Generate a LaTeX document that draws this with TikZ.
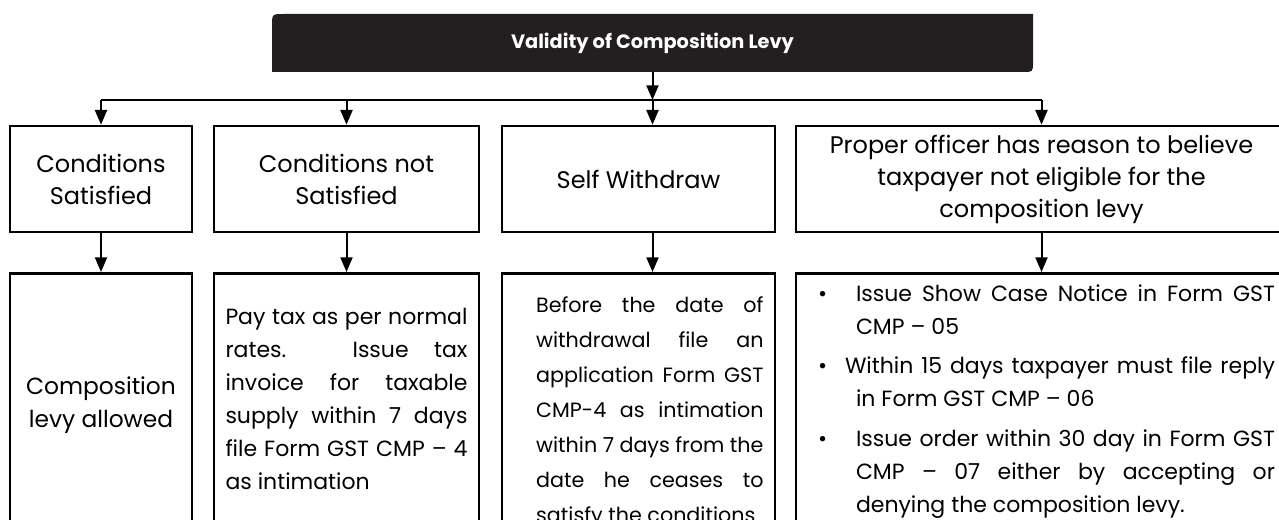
\documentclass[tikz,border=0pt]{standalone}
\usepackage{fontspec}
\setmainfont{Poppins}
\usepackage{tikz}
\usetikzlibrary{arrows.meta}

\definecolor{headfill}{HTML}{231F20}
\newcommand{\bitem}[1]{\par\hangindent=28.5pt\hangafter=1\noindent\makebox[#1][l]{\textbullet}}
\newcommand{\tightsp}{\spaceskip=0.27em plus 2em minus 0.15em\hyphenpenalty=10000\relax}

\begin{document}
\begin{tikzpicture}[
		x=0.75pt, y=-0.75pt,
		line/.style={line width=1.5pt},
		>={Triangle[width=9pt,length=11pt]},
		topbox/.style={draw, line width=2pt, minimum height=79.5pt, align=center, font=\fontsize{18}{24}\selectfont},
		lowbox/.style={draw, line width=2pt, anchor=north, minimum height=198pt, inner xsep=8.6pt, font=\fontsize{16.5}{24.75}\selectfont\tightsp}]
	%% frame
	\path[use as bounding box] (0,0) rectangle (1279,520);
	\clip (0,0) rectangle (1279,520);
	%% title bar
	\fill[headfill] (272,72) -- (272,26) .. controls (272,14) .. (284,14) -- (1033,14) -- (1033,62) .. controls (1033,72) .. (1023,72) -- cycle;
	\node (head) at (652.5,43) [minimum width=570.75pt, minimum height=43.5pt, text=white, font=\bfseries\fontsize{14.5}{16}\selectfont] {Validity of Composition Levy};
	\coordinate (bus) at (652.5,100);
	%% first row
	\node (top1) at (101,179) [topbox, minimum width=136.5pt] {Conditions\\Satisfied};
	\node (top2) at (346.5,179) [topbox, minimum width=198.75pt] {Conditions not\\Satisfied};
	\node (top3) at (638.5,179) [topbox, minimum width=204.75pt] {Self Withdraw};
	\node (top4) at (1041.5,179) [topbox, minimum width=368.25pt] {Proper officer has reason to believe\\taxpayer not eligible for the\\composition levy};
	%% second row
	\node (low1) at (101,272) [lowbox, minimum width=136.5pt, align=center, font=\fontsize{17.5}{24.75}\selectfont] {Composition\\levy allowed};
	\node (low2) at (346.5,272) [lowbox, text width=181.5pt, align=justify] {Pay tax as per normal\linebreak rates. Issue tax\linebreak invoice for taxable\linebreak supply within 7 days\linebreak file Form GST CMP – 4\linebreak as intimation\par\kern9pt};
	\node (low3) at (638.5,272) [lowbox, text width=187.5pt, align=justify, font=\fontsize{15.5}{26.25}\selectfont\tightsp] {\leftskip=17pt\par\kern-4pt\noindent Before the date of\linebreak withdrawal file an\linebreak application Form GST\linebreak CMP-4 as intimation\linebreak within 7 days from the\linebreak date he ceases to\linebreak satisfy the conditions\par};
	\node (low4) at (1041.5,272) [lowbox, inner xsep=9pt, text width=350.25pt, align=justify] {\leftskip=7.5pt\par\kern-18pt
		\bitem{28.5pt}Issue Show Case Notice in Form GST\linebreak CMP – 05\par\vskip5pt
		\bitem{20.25pt}Within 15 days taxpayer must file reply\linebreak in Form GST CMP – 06\par\vskip5pt
		\bitem{28.5pt}Issue order within 30 day in Form GST\linebreak CMP – 07 either by accepting or\linebreak denying the composition levy.\par};
	%% connectors
	\draw[line,->] (head.south) -- (bus);
	\draw[line] (bus -| top1.north) -- (bus -| top4.north);
	\draw[line,->] (bus -| top1.north) -- (top1.north);
	\draw[line,->] (bus -| top2.north) -- (top2.north);
	\draw[line,->] (bus) -- (bus |- top3.north);
	\draw[line,->] (bus -| top4.north) -- (top4.north);
	\draw[line,->] (top1.south) -- (low1.north);
	\draw[line,->] (top2.south) -- (low2.north);
	\draw[line,->] (bus |- top3.south) -- (bus |- low3.north);
	\draw[line,->] (top4.south) -- (low4.north);
\end{tikzpicture}
\end{document}
